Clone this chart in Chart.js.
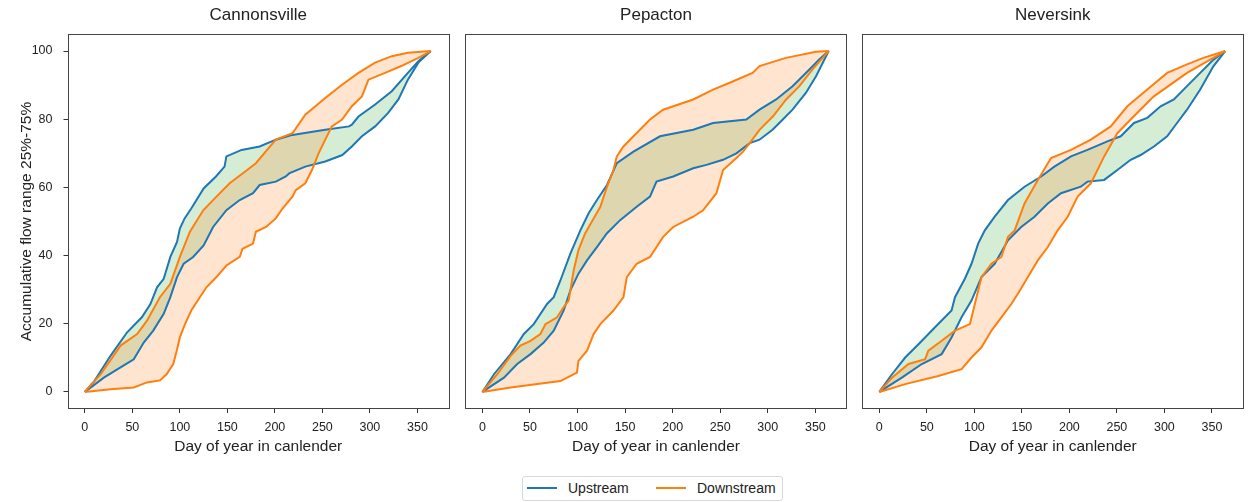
<!DOCTYPE html>
<html>
<head>
<meta charset="utf-8">
<script src="https://cdn.jsdelivr.net/npm/chart.js@4.4.1/dist/chart.umd.min.js"></script>
<style>
html,body{margin:0;padding:0;background:#fff;}
#wrap{position:relative;width:1252px;height:502px;overflow:hidden;font-family:"Liberation Sans",Arial,sans-serif;color:#222;}
canvas{position:absolute;top:0;}
#legend{position:absolute;left:522px;top:476px;width:261px;height:25px;border:1px solid #d8d8d8;border-radius:3px;box-sizing:border-box;background:#fff;}
#legend .sw{position:absolute;top:10px;height:0;border-top:2px solid;width:30px;}
#legend .tx{position:absolute;top:0;line-height:23px;font-size:14px;}
</style>
</head>
<body>
<div id="wrap">
  <canvas id="c1" width="452" height="460" style="left:0px;width:452px;height:460px"></canvas>
  <canvas id="c2" width="400" height="460" style="left:452px;width:400px;height:460px"></canvas>
  <canvas id="c3" width="400" height="460" style="left:852px;width:400px;height:460px"></canvas>
  <div id="legend">
    <span class="sw" style="left:4px;border-color:#1f77b4"></span><span class="tx" style="left:45px">Upstream</span>
    <span class="sw" style="left:133px;border-color:#ff7f0e"></span><span class="tx" style="left:174px">Downstream</span>
  </div>
</div>
<script>
// ---- data: [day, accumulative flow %] ----
const panelTitles = ['Cannonsville', 'Pepacton', 'Neversink'];
const seriesNames = ['Upstream', 'Downstream'];
const xTickValues = [0, 50, 100, 150, 200, 250, 300, 350];
const yTickValues = [0, 20, 40, 60, 80, 100];

const cannonUpHigh = [[0,0],[10,3.2],[27,10.6],[44.5,17.5],[60,21.9],[69,25.8],[76,30.7],[83,33.2],[90,39.6],[97,44],[100,47.9],[105,50.9],[112,53.8],[125,59.7],[138,63.2],[147,66.1],[149,69.1],[165,71],[184,72],[201,74],[218.5,75.4],[253,76.9],[278,77.9],[281,78.4],[288,80.8],[305.5,84.3],[323,88.2],[340,93.6],[351,97],[364,100]];
const cannonUpLow = [[0,0],[20,4.2],[37.6,7.2],[51.5,9.6],[62,14.5],[72,18],[83,22.9],[90,27.8],[97,33.7],[104,37.6],[114,39.6],[125,43],[135,48.4],[149,53.3],[163,56.3],[177,58.3],[184,60.7],[201,61.7],[211.5,63.2],[215,64.1],[232,66.1],[253,67.6],[271,69.5],[281,72],[291.6,75],[305.5,77.9],[319,81.8],[330,85.8],[340,91.6],[351,96.6],[364,100]];
const cannonDnHigh = [[0,0],[16.7,5.2],[37.6,13.6],[55,17],[65.4,20.9],[79,27.8],[90,31.7],[100,39.6],[110.6,47],[124.6,53.3],[138.5,57.3],[152.4,61.2],[166,64.1],[180,67.1],[201,74],[218.5,75.9],[232,81.3],[253,86.2],[271,90.2],[288,93.6],[305.5,96.6],[323,98.5],[340,99.5],[364,100]];
const cannonDnLow = [[0,0],[27,0.8],[51.5,1.3],[65.4,2.8],[79,3.4],[86,5.2],[93,8.2],[96.7,12.1],[100,16],[105.4,19.9],[112,23.9],[121,27.8],[128,30.7],[138.5,33.7],[149,37.1],[163,39.6],[166,42],[177,43.5],[180,47],[190.7,48.4],[201,50.9],[208,53.8],[218.5,57.3],[222,59.2],[232,61.2],[239,65.1],[246,70],[253,74],[260,77.9],[270.7,79.9],[281,83.8],[291.6,86.7],[298.5,91.6],[316,93.6],[333,95.6],[351,98],[364,100]];

const pepacUpHigh = [[0,0],[12.2,5.2],[29.7,11.1],[43.6,17],[54,19.9],[68,25.8],[75,27.8],[82,32.7],[92.5,40.6],[103,47.4],[111.7,52.4],[120.4,56.3],[131,60.7],[141.3,67.1],[158.8,70.5],[186.7,75],[221.6,76.9],[242.5,78.9],[277.4,79.9],[291.3,82.8],[308.8,85.8],[326,89.7],[343.7,94.6],[354,97.5],[364,100]];
const pepacUpLow = [[0,0],[22.7,4.2],[36.6,8.2],[50.6,11.1],[64.5,14.5],[75,18],[85.5,23.9],[92.5,29.8],[101,34.7],[110,38.6],[120.4,42.5],[130.8,46.5],[144.8,50.4],[162.2,54.3],[176.2,57.3],[183,61.7],[200.6,63.2],[221.6,65.6],[235.5,66.6],[253,68.1],[267,70],[281,73],[291.3,74],[305,76.9],[315.8,79.9],[326,82.8],[340,87.7],[350.7,92.6],[364,100]];
const pepacDnHigh = [[0,0],[15.7,5.2],[29.7,10.6],[40,13.6],[50.6,15],[61,17],[66.3,19.9],[78.5,21.9],[85.5,24.9],[90.7,26.8],[92.5,29.8],[96,35.7],[101,41.6],[108,46.5],[115,49.9],[124,54.3],[131,60.2],[137.8,65.1],[141.3,69.1],[148.3,72],[158.8,75],[176.2,79.9],[190,82.8],[221.6,85.8],[242.5,88.7],[260,90.7],[284,93.6],[291.3,95.6],[319,98],[350.7,99.8],[364,100]];
const pepacDnLow = [[0,0],[29.7,1.3],[82,3.2],[99.4,5.7],[101,9.1],[110,12.1],[117,17],[124,19.9],[137.8,23.9],[148.3,27.8],[151.8,33.7],[162.2,37.6],[176.2,39.6],[190,45.5],[200.6,48.4],[221.6,51.4],[232,53.3],[246,58.3],[253,65.1],[267,68.6],[274,70.5],[281,73],[291.3,76.9],[305.3,80.8],[319.3,85.8],[333.2,89.7],[347,94.6],[364,100]];

const neverUpHigh = [[0,0],[13.3,5.2],[27.2,10.1],[41.2,14],[58.6,19],[76,23.9],[79.6,27.8],[90,33.2],[97,37.6],[104,43.5],[111,47.4],[121.4,51.4],[135.4,56.3],[152.8,60.2],[170.3,63.2],[184.2,66.1],[201.7,69.1],[219,71],[240,73.5],[254,75],[268,78.9],[282,80.4],[296,83.8],[310,85.8],[323.8,89.7],[337.7,93.6],[351.7,97.5],[364,100]];
const neverUpLow = [[0,0],[23.7,4.2],[44.7,8.2],[65.6,11.1],[76,16],[86.5,21.9],[97,26.8],[107.5,33.7],[121.4,37.6],[135.4,44.5],[149.3,48.4],[163.3,51.4],[177.3,55.3],[191.2,58.3],[212,60.2],[219,61.7],[236.6,62.2],[250.5,65.1],[264.5,68.1],[275,69.5],[289,72],[302.9,75],[313.3,78.9],[323.8,82.8],[337.7,88.7],[351.7,95.6],[364,100]];
const neverDnHigh = [[0,0],[13.3,4.2],[30.7,8.2],[48.2,9.6],[51.6,12.1],[65.6,15],[79.6,18],[95.3,19.9],[100.5,25.8],[107.5,33.7],[118,37.6],[128.4,39.6],[135.4,45.5],[142.4,47.4],[152.8,55.3],[166.8,62.2],[180.7,68.6],[201.7,71],[222.6,74],[243.5,77.9],[261,83.8],[282,88.7],[302.9,93.6],[323.8,96.1],[341,98],[364,100]];
const neverDnLow = [[0,0],[27.2,2.3],[62,4.7],[86.5,6.7],[97,10.1],[107.5,13.1],[118,18],[128.4,21.9],[138.9,25.8],[145.8,28.8],[156.3,33.7],[166.8,38.6],[177.3,42.5],[187.7,47.4],[198.2,51.4],[208.7,57.3],[222.6,61.2],[236.6,69.1],[250.5,75.9],[264.5,79.9],[278.4,83.8],[288.9,86.7],[323.8,93.6],[364,100]];

// ---- styling ----
const FONT = '"Liberation Sans", Arial, sans-serif';
const TEXT = '#222';
const BLUE = '#1f77b4', ORANGE = '#ff7f0e';
const GREEN_FILL = 'rgba(44,160,44,0.2)', ORANGE_FILL = 'rgba(255,127,14,0.2)';

const framePlugin = {
  id: 'frame',
  afterDatasetsDraw(chart) {
    const a = chart.chartArea, ctx = chart.ctx;
    ctx.save();
    ctx.strokeStyle = '#444';
    ctx.lineWidth = 1;
    ctx.strokeRect(Math.round(a.left) + 0.5, Math.round(a.top) + 0.5,
                   Math.round(a.right - a.left) - 1, Math.round(a.bottom - a.top) - 1);
    ctx.restore();
  }
};

const toPts = arr => arr.map(p => ({x: p[0], y: p[1]}));

function makeChart(id, title, upHigh, upLow, dnHigh, dnLow, pad, showY) {
  const line = (label, data, color, fill, bg, order) => ({
    label, data: toPts(data), borderColor: color, borderWidth: 2, pointRadius: 0,
    tension: 0, fill, backgroundColor: bg, order
  });
  return new Chart(document.getElementById(id), {
    type: 'line',
    data: {
      datasets: [
        line(seriesNames[0], upHigh, BLUE, false, GREEN_FILL, 1),
        line(seriesNames[0], upLow, BLUE, 0, GREEN_FILL, 1),
        line(seriesNames[1], dnHigh, ORANGE, false, ORANGE_FILL, 0),
        line(seriesNames[1], dnLow, ORANGE, 2, ORANGE_FILL, 0)
      ]
    },
    options: {
      responsive: false,
      animation: false,
      devicePixelRatio: 1,
      layout: {padding: pad},
      plugins: {
        legend: {display: false},
        tooltip: {enabled: false},
        filler: {drawTime: 'beforeDatasetsDraw'},
        title: {
          display: true, text: title, fullSize: false, color: TEXT,
          font: {family: FONT, size: 17, weight: 'normal'},
          padding: {top: 5, bottom: 8.6}
        }
      },
      scales: {
        x: {
          type: 'linear', min: -18.25, max: 383.25,
          afterBuildTicks: s => { s.ticks = xTickValues.map(v => ({value: v})); },
          afterFit: s => { s.height = 51; },
          border: {display: false},
          grid: {drawOnChartArea: false, drawTicks: true, tickLength: 4, tickColor: '#333'},
          ticks: {padding: 7, color: TEXT, font: {family: FONT, size: 12.5}, maxRotation: 0, autoSkip: false},
          title: {display: true, text: 'Day of year in canlender', color: TEXT,
                  font: {family: FONT, size: 15.5}, padding: {top: 0, bottom: 3.5}}
        },
        y: {
          type: 'linear', min: -5, max: 105, display: showY,
          afterBuildTicks: s => { s.ticks = yTickValues.map(v => ({value: v})); },
          afterFit: s => { s.width = showY ? 67.5 : 0; },
          border: {display: false},
          grid: {drawOnChartArea: false, drawTicks: true, tickLength: 4, tickColor: '#333'},
          ticks: {padding: 11, color: TEXT, font: {family: FONT, size: 12.5}, autoSkip: false},
          title: {display: true, text: 'Accumulative flow range 25%-75%', color: TEXT,
                  font: {family: FONT, size: 15.5}, padding: {top: 17, bottom: 0}}
        }
      }
    },
    plugins: [framePlugin]
  });
}

makeChart('c1', panelTitles[0], cannonUpHigh, cannonUpLow, cannonDnHigh, cannonDnLow, {left: 0, right: 3, top: 0, bottom: 0}, true);
makeChart('c2', panelTitles[1], pepacUpHigh, pepacUpLow, pepacDnHigh, pepacDnLow, {left: 13, right: 5, top: 0, bottom: 0}, false);
makeChart('c3', panelTitles[2], neverUpHigh, neverUpLow, neverDnHigh, neverDnLow, {left: 10, right: 8.5, top: 0, bottom: 0}, false);
</script>
</body>
</html>
